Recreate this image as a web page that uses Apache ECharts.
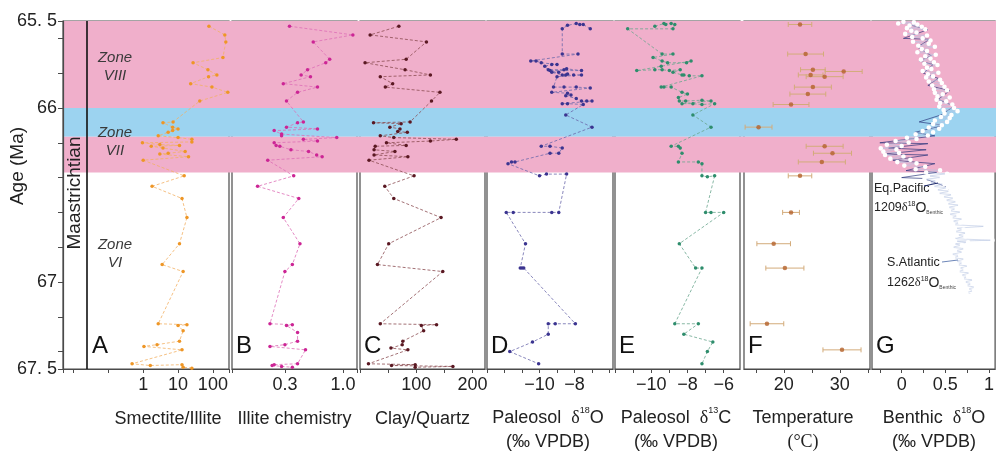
<!DOCTYPE html>
<html>
<head>
<meta charset="utf-8">
<script src="https://cdn.jsdelivr.net/npm/echarts@6/dist/echarts.min.js"></script>
<style>
  html, body { margin: 0; padding: 0; background: #fff; }
  #chart { width: 997px; height: 452px; }
</style>
</head>
<body>
<div id="chart"></div>
<script>
// 年龄轴 (Ma)
const ageTicks = [65.5, 65.6, 65.8, 66.0, 66.2, 66.4, 66.6, 66.8, 67.0, 67.2, 67.4, 67.5]
const ageLabels = [65.5, 66, 67, 67.5]

// 分带 (Zone VIII 粉, Zone VII 上部蓝, 下部粉)
const bandEdges = [[65.5, 66.0], [66.0, 66.165], [66.165, 66.37]]
const bandColors = ['#f0afcb', '#9cd3f0', '#f0afcb']

// 每个面板: [数值, 年龄]
const smectiteIllite = [
  [77, 65.53], [220, 65.58], [235, 65.62], [194, 65.71], [27, 65.74], [72, 65.78], [130, 65.81],
  [75, 65.82], [23, 65.86], [94, 65.88], [268, 65.91], [42, 65.96], [7.2, 66.08], [3.7, 66.085],
  [7, 66.11], [10, 66.12], [7, 66.13], [5.2, 66.14], [2.7, 66.16], [10, 66.17], [25, 66.18],
  [25, 66.195], [0.95, 66.2], [3, 66.21], [11, 66.215], [1.7, 66.22], [3.7, 66.23], [16, 66.25],
  [5.2, 66.26], [3, 66.265], [20, 66.28], [1, 66.3], [15, 66.39], [1.8, 66.45], [13, 66.52],
  [18, 66.63], [11, 66.78], [3.5, 66.9], [14, 66.94], [2.7, 67.24], [18, 67.245], [10, 67.25],
  [14, 67.28], [11, 67.34], [2.5, 67.36], [1.05, 67.37], [13, 67.39], [0.48, 67.47], [1.6, 67.48],
  [13, 67.475], [14, 67.49], [25, 67.495]
]

const illiteChem = [
  [0.33, 65.53], [1.23, 65.58], [0.54, 65.62], [0.76, 65.72], [0.70, 65.74], [0.48, 65.78],
  [0.42, 65.81], [0.51, 65.82], [0.29, 65.86], [0.59, 65.88], [0.39, 65.91], [0.31, 65.96],
  [0.44, 66.08], [0.39, 66.085], [0.31, 66.11], [0.59, 66.12], [0.24, 66.13], [0.28, 66.15],
  [0.28, 66.16], [0.88, 66.17], [0.44, 66.18], [0.59, 66.19], [0.24, 66.2], [0.25, 66.215],
  [0.27, 66.22], [0.34, 66.24], [0.49, 66.25], [0.58, 66.27], [0.65, 66.28], [0.21, 66.3],
  [0.36, 66.39], [0.17, 66.45], [0.40, 66.52], [0.29, 66.63], [0.41, 66.78], [0.35, 66.9],
  [0.30, 66.94], [0.22, 67.24], [0.35, 67.245], [0.31, 67.25], [0.39, 67.29], [0.39, 67.34],
  [0.30, 67.36], [0.22, 67.37], [0.46, 67.39], [0.39, 67.47], [0.24, 67.475], [0.23, 67.48],
  [0.28, 67.485], [0.35, 67.49]
]

const clayQuartz = [
  [69, 65.53], [18, 65.58], [118, 65.62], [82, 65.72], [9, 65.74], [80, 65.78], [125, 65.81],
  [36, 65.82], [58, 65.86], [45, 65.88], [142, 65.91], [127, 65.96], [89, 66.08], [24, 66.085],
  [73, 66.09], [53, 66.11], [71, 66.12], [67, 66.135], [84, 66.14], [36, 66.16], [60, 66.17],
  [171, 66.18], [125, 66.19], [47, 66.2], [82, 66.215], [27, 66.22], [25, 66.24], [62, 66.25],
  [25, 66.27], [85, 66.28], [16, 66.3], [96, 66.39], [44, 66.45], [60, 66.52], [144, 66.63],
  [51, 66.78], [31, 66.9], [147, 66.94], [36, 67.24], [136, 67.245], [109, 67.25], [113, 67.28],
  [76, 67.34], [75, 67.36], [55, 67.38], [85, 67.39], [15, 67.47], [98, 67.475], [56, 67.48],
  [165, 67.485], [98, 67.49]
]

const paleosolO = [
  [-7.1, 65.545], [-7.5, 65.52], [-7.7, 65.52], [-7.9, 65.515], [-8.4, 65.525], [-8.7, 65.545],
  [-8.7, 65.69], [-7.8, 65.69], [-10.5, 65.73], [-10.2, 65.73], [-9.9, 65.74], [-9.0, 65.75],
  [-9.3, 65.75], [-9.7, 65.76], [-9.5, 65.78], [-8.6, 65.78], [-8.45, 65.775], [-7.6, 65.785],
  [-9.4, 65.785], [-8.9, 65.795], [-9.3, 65.795], [-8.7, 65.81], [-8.5, 65.81], [-8.4, 65.805],
  [-8.05, 65.81], [-7.6, 65.81], [-9.0, 65.82], [-9.2, 65.88], [-8.6, 65.88], [-7.9, 65.88],
  [-7.1, 65.885], [-9.3, 65.91], [-8.4, 65.915], [-8.2, 65.925], [-8.5, 65.93], [-7.9, 65.945],
  [-7.6, 65.96], [-7.3, 65.96], [-7.0, 65.96], [-8.7, 65.975], [-8.4, 65.975], [-7.5, 65.98],
  [-8.5, 66.04], [-7.0, 66.11], [-9.9, 66.22], [-9.4, 66.22], [-8.7, 66.23], [-8.9, 66.26],
  [-9.4, 66.26], [-11.4, 66.31], [-11.6, 66.31], [-11.8, 66.32], [-10.0, 66.39], [-9.6, 66.38],
  [-8.45, 66.38], [-8.9, 66.6], [-9.3, 66.6], [-11.5, 66.6], [-11.9, 66.6], [-10.8, 66.78],
  [-11.1, 66.92], [-11.0, 66.92], [-10.9, 66.92], [-7.95, 67.24], [-9.1, 67.24], [-9.5, 67.24],
  [-9.5, 67.3], [-10.4, 67.345], [-11.7, 67.4], [-10.05, 67.47]
]

const paleosolC = [
  [-9.8, 65.53], [-9.3, 65.515], [-9.2, 65.52], [-8.9, 65.515], [-8.7, 65.52], [-8.8, 65.545],
  [-11.3, 65.545], [-9.4, 65.69], [-8.8, 65.69], [-9.9, 65.71], [-9.4, 65.73], [-9.1, 65.74],
  [-8.05, 65.74], [-7.8, 65.73], [-9.45, 65.76], [-10.8, 65.785], [-9.8, 65.78], [-9.4, 65.78],
  [-9.0, 65.785], [-8.4, 65.78], [-8.8, 65.795], [-8.3, 65.81], [-8.2, 65.81], [-7.9, 65.815],
  [-7.2, 65.815], [-9.45, 65.88], [-9.3, 65.88], [-8.9, 65.88], [-8.3, 65.91], [-8.0, 65.92],
  [-8.5, 65.94], [-8.45, 65.96], [-8.1, 65.96], [-7.2, 65.955], [-6.7, 65.96], [-8.3, 65.975],
  [-7.7, 65.975], [-7.2, 65.98], [-6.5, 65.975], [-7.7, 66.04], [-6.7, 66.11], [-8.9, 66.22],
  [-8.5, 66.22], [-8.4, 66.23], [-8.3, 66.26], [-8.5, 66.31], [-7.4, 66.31], [-7.2, 66.32],
  [-7.2, 66.39], [-6.9, 66.395], [-6.5, 66.39], [-7.0, 66.6], [-6.7, 66.6], [-6.0, 66.6],
  [-8.45, 66.78], [-7.55, 66.92], [-7.2, 66.92], [-8.7, 67.24], [-7.4, 67.24], [-8.2, 67.3],
  [-6.6, 67.345], [-6.9, 67.4], [-7.2, 67.47]
]

// 温度: [数值, 年龄, 误差]
const temperature = [
  [22.9, 65.52, 2.1], [23.9, 65.69, 3.2], [25.2, 65.78, 2.2], [30.7, 65.79, 3.3], [24.8, 65.81, 2.2],
  [27.3, 65.82, 3.3], [25.2, 65.88, 3.3], [24.3, 65.92, 3.2], [21.3, 65.98, 3.2], [15.5, 66.11, 2.4],
  [27.3, 66.22, 3.3], [28.7, 66.26, 3.4], [26.8, 66.31, 4.2], [22.9, 66.39, 2.1], [21.3, 66.6, 1.5],
  [18.2, 66.78, 3.0], [20.2, 66.92, 3.4], [17.0, 67.24, 3.0], [30.4, 67.39, 3.4]
]

// 底栖有孔虫 δ18O
const atlantic1262 = [
  [0.02, 65.505], [0.14, 65.508], [-0.04, 65.514], [0.18, 65.52], [0.09, 65.526], [0.23, 65.533],
  [0.06, 65.541], [0.27, 65.548], [0.11, 65.556], [0.17, 65.566], [0.04, 65.574], [0.29, 65.583],
  [0.12, 65.592], [0.24, 65.6], [0.33, 65.612], [0.13, 65.619], [0.31, 65.631], [0.19, 65.642],
  [0.38, 65.648], [0.23, 65.661], [0.29, 65.673], [0.18, 65.68], [0.39, 65.694], [0.27, 65.703],
  [0.33, 65.716], [0.22, 65.722], [0.37, 65.737], [0.26, 65.746], [0.41, 65.753], [0.29, 65.768],
  [0.34, 65.776], [0.24, 65.787], [0.42, 65.797], [0.30, 65.806], [0.36, 65.818], [0.28, 65.824],
  [0.44, 65.838], [0.31, 65.848], [0.46, 65.856], [0.35, 65.871], [0.49, 65.878], [0.37, 65.892],
  [0.52, 65.898], [0.38, 65.913], [0.47, 65.921], [0.41, 65.933], [0.55, 65.94], [0.40, 65.952],
  [0.51, 65.962], [0.44, 65.971], [0.58, 65.98], [0.43, 65.992], [0.60, 66.0], [0.48, 66.012],
  [0.64, 66.018], [0.49, 66.031], [0.57, 66.04], [0.45, 66.052], [0.55, 66.058], [0.38, 66.072],
  [0.52, 66.08], [0.36, 66.092], [0.46, 66.099], [0.31, 66.112], [0.43, 66.119], [0.24, 66.132],
  [0.36, 66.139], [0.16, 66.151], [0.30, 66.158], [0.06, 66.171], [0.17, 66.178], [-0.07, 66.19],
  [0.08, 66.198], [-0.17, 66.211], [0.0, 66.218], [-0.24, 66.232], [-0.06, 66.238], [-0.21, 66.251],
  [-0.03, 66.258], [-0.19, 66.27], [0.02, 66.279], [-0.13, 66.291], [0.10, 66.298], [-0.05, 66.311],
  [0.17, 66.318], [0.03, 66.331], [0.27, 66.338], [0.16, 66.352], [0.44, 66.358], [0.28, 66.371],
  [0.52, 66.378], [0.30, 66.391], [0.46, 66.399], [0.26, 66.41], [0.41, 66.419], [0.31, 66.432],
  [0.49, 66.438], [0.35, 66.451], [0.53, 66.458], [0.39, 66.471], [0.56, 66.478], [0.41, 66.491],
  [0.59, 66.498], [0.46, 66.511], [0.61, 66.518], [0.49, 66.531], [0.64, 66.538], [0.51, 66.551],
  [0.67, 66.558], [0.52, 66.571], [0.63, 66.578], [0.54, 66.591], [0.69, 66.598], [0.53, 66.611],
  [0.65, 66.618], [0.56, 66.631], [0.71, 66.638], [0.57, 66.651], [0.67, 66.658], [0.59, 66.671],
  [0.96, 66.68], [0.61, 66.691], [0.71, 66.698], [0.60, 66.711], [0.75, 66.718], [0.63, 66.731],
  [0.73, 66.738], [0.59, 66.751], [1.04, 66.76], [0.61, 66.765], [0.76, 66.772], [0.59, 66.781],
  [0.69, 66.788], [0.57, 66.801], [0.73, 66.808], [0.61, 66.821], [0.71, 66.828], [0.56, 66.841],
  [0.67, 66.848], [0.59, 66.861], [0.73, 66.868], [0.61, 66.881], [0.71, 66.888], [0.63, 66.901],
  [0.77, 66.908], [0.65, 66.921], [0.73, 66.928], [0.64, 66.941], [0.79, 66.948], [0.67, 66.961],
  [0.76, 66.968], [0.69, 66.981], [0.83, 66.988], [0.71, 67.0], [0.81, 67.01], [0.73, 67.02],
  [0.85, 67.03], [0.75, 67.04], [0.83, 67.05], [0.74, 67.06], [0.81, 67.07], [0.77, 67.08]
]

const pacific1209 = [
  [0.08, 65.52], [0.30, 65.55], [0.02, 65.6], [0.32, 65.605], [0.18, 65.65], [0.34, 65.7],
  [0.20, 65.73], [0.36, 65.75], [0.25, 65.8], [0.42, 65.83], [0.30, 65.87], [0.55, 65.9],
  [0.42, 65.95], [0.60, 65.99], [0.45, 66.04], [0.20, 66.08], [0.48, 66.1], [0.15, 66.14],
  [0.38, 66.16], [-0.25, 66.2], [0.30, 66.205], [-0.15, 66.23], [0.28, 66.24], [-0.20, 66.265],
  [0.30, 66.27], [-0.10, 66.3], [0.38, 66.32], [0.05, 66.36], [0.40, 66.37], [0.0, 66.4],
  [0.25, 66.405], [0.50, 66.45], [0.60, 66.5]
]

const FONT = 'Liberation Sans, Arial, sans-serif'
const SERIF = 'Liberation Serif, Times New Roman, serif'

// 面板位置
const panels = [
  { left: 63, width: 166 },
  { left: 232, width: 125 },
  { left: 360, width: 125 },
  { left: 487, width: 126 },
  { left: 615, width: 125 },
  { left: 744, width: 126 },
  { left: 872, width: 124 }
]
const TOP = 21
const HEIGHT = 348

const chart = echarts.init(document.getElementById('chart'), null, { renderer: 'canvas' })

const grids = panels.map((p) => ({
  left: p.left, width: p.width, top: TOP, height: HEIGHT,
  show: true, z: 1, borderColor: '#4a4a4a', borderWidth: 1.2, backgroundColor: 'transparent'
}))
grids.push({ left: 63, width: 933, top: TOP, height: HEIGHT, show: false })

const labelStyle = { fontFamily: FONT, fontSize: 18, color: '#222', margin: 7 }
const nameStyle = { fontFamily: FONT, fontSize: 18, color: '#222', lineHeight: 24 }
const axisBase = (i) => ({
  gridIndex: i, z: 1,
  nameLocation: 'middle', nameGap: 38, nameTextStyle: nameStyle,
  axisLine: { show: true, lineStyle: { color: '#4a4a4a', width: 1.2 } },
  axisTick: { show: true, length: 4, lineStyle: { color: '#4a4a4a' } },
  splitLine: { show: false }
})
const tickStyle = (values) => ({ show: true, length: 4, lineStyle: { color: '#4a4a4a' }, customValues: values })
const minus = (v) => (v < 0 ? '\u2212' + Math.abs(v) : String(v))

const xAxes = [
  Object.assign(axisBase(0), {
    type: 'log', logBase: 10, min: 0.005, max: 290, name: 'Smectite/Illite',
    nameTextStyle: Object.assign({}, nameStyle, { padding: [0, 0, 0, 44] }),
    axisLabel: Object.assign({}, labelStyle, {
      formatter: (v) => ([1, 10, 100].some((k) => Math.abs(v - k) < 1e-6) ? String(Math.round(v)) : '')
    })
  }),
  Object.assign(axisBase(1), {
    type: 'log', logBase: 1 / 0.3, min: 0.1, max: 1.34, name: 'Illite chemistry',
    axisLabel: Object.assign({}, labelStyle, {
      formatter: (v) => ([0.3, 1].some((k) => Math.abs(v - k) < 1e-3) ? v.toFixed(1) : '')
    })
  }),
  Object.assign(axisBase(2), {
    type: 'value', min: 0, max: 222, name: 'Clay/Quartz',
    axisTick: tickStyle([0, 50, 100, 150, 200]),
    axisLabel: Object.assign({}, labelStyle, { customValues: [100, 200] })
  }),
  Object.assign(axisBase(3), {
    type: 'value', min: -13, max: -5.8,
    axisTick: tickStyle([-13, -12, -11, -10, -9, -8, -7, -6]),
    axisLabel: Object.assign({}, labelStyle, { customValues: [-10, -8], formatter: minus })
  }),
  Object.assign(axisBase(4), {
    type: 'value', min: -12, max: -5.1,
    axisTick: tickStyle([-12, -11, -10, -9, -8, -7, -6]),
    axisLabel: Object.assign({}, labelStyle, { customValues: [-10, -8, -6], formatter: minus })
  }),
  Object.assign(axisBase(5), {
    type: 'value', min: 12.9, max: 35.4,
    axisTick: tickStyle([15, 20, 25, 30, 35]),
    axisLabel: Object.assign({}, labelStyle, { customValues: [20, 30] })
  }),
  Object.assign(axisBase(6), {
    type: 'value', min: -0.34, max: 1.07,
    axisTick: tickStyle([-0.25, 0, 0.25, 0.5, 0.75, 1]),
    axisLabel: Object.assign({}, labelStyle, { customValues: [0, 0.5, 1] })
  }),
  { gridIndex: 7, type: 'value', min: 0, max: 1, show: false }
]

const yAxes = panels.map((p, i) => ({
  gridIndex: i, type: 'value', inverse: true, min: 65.5, max: 67.5, z: 1,
  show: i === 0,
  axisLine: { show: true, lineStyle: { color: '#4a4a4a', width: 1.2 } },
  axisTick: { show: true, length: 5, lineStyle: { color: '#4a4a4a' }, customValues: ageTicks },
  axisLabel: Object.assign({}, labelStyle, {
    margin: 6,
    customValues: ageLabels,
    formatter: (v) => (v === 65.5 ? '65. 5' : v === 67.5 ? '67. 5' : String(v))
  }),
  splitLine: { show: false }
}))
yAxes.push({ gridIndex: 7, type: 'value', inverse: true, min: 65.5, max: 67.5, show: false })

const lineSeries = (i, data, dot, line) => ({
  type: 'line', xAxisIndex: i, yAxisIndex: i, data: data,
  symbol: 'circle', symbolSize: 3.5, z: 3,
  itemStyle: { color: dot },
  lineStyle: { color: line, width: 0.8, type: [3, 2] },
  animation: false
})

// 两行的坐标轴标题
const titleRich = {
  t: { fontFamily: FONT, fontSize: 18, fill: '#222', lineHeight: 24 },
  d: { fontFamily: SERIF, fontSize: 18, fill: '#222', lineHeight: 24 },
  s: { fontFamily: FONT, fontSize: 9, fill: '#222', lineHeight: 24, verticalAlign: 'top' }
}
const twoLineTitles = [
  { x: 548, text: '{t|Paleosol  }{d|δ}{s|18}{t|O}\n{t|(‰ VPDB)}' },
  { x: 676, text: '{t|Paleosol  }{d|δ}{s|13}{t|C}\n{t|(‰ VPDB)}' },
  { x: 803, text: '{t|Temperature}\n{d|(°C)}' },
  { x: 934, text: '{t|Benthic  }{d|δ}{s|18}{t|O}\n{t|(‰ VPDB)}' }
]

const benthicRich = {
  a: { fontFamily: FONT, fontSize: 12.5, fill: '#222' },
  d: { fontFamily: SERIF, fontSize: 12.5, fill: '#222' },
  s: { fontFamily: FONT, fontSize: 7, fill: '#222', verticalAlign: 'top' },
  o: { fontFamily: FONT, fontSize: 14, fill: '#222' },
  b: { fontFamily: FONT, fontSize: 5, fill: '#444', verticalAlign: 'bottom' }
}

const option = {
  animation: false,
  grid: grids,
  xAxis: xAxes,
  yAxis: yAxes,
  series: [
    {
      type: 'line', xAxisIndex: 7, yAxisIndex: 7, data: [], silent: true, z: 0,
      markArea: {
        silent: true,
        data: bandEdges.map((b, i) => [
          { yAxis: b[0], itemStyle: { color: bandColors[i], opacity: 1 } },
          { yAxis: b[1] }
        ])
      }
    },
    lineSeries(0, smectiteIllite, '#ee9626', '#f2b164'),
    lineSeries(1, illiteChem, '#cc2595', '#dd6fb6'),
    lineSeries(2, clayQuartz, '#5a1822', '#8c4c52'),
    lineSeries(3, paleosolO, '#3b3490', '#6b68ab'),
    lineSeries(4, paleosolC, '#2e8d6c', '#6aa68e'),
    {
      type: 'custom', xAxisIndex: 5, yAxisIndex: 5, data: temperature, z: 3,
      encode: { x: 0, y: 1 },
      renderItem: (params, api) => {
        const v = api.value(0)
        const a = api.value(1)
        const e = api.value(2)
        const p1 = api.coord([v - e, a])
        const p2 = api.coord([v + e, a])
        const st = { stroke: '#d3ab7a', lineWidth: 1 }
        return {
          type: 'group',
          children: [
            { type: 'line', shape: { x1: p1[0], y1: p1[1], x2: p2[0], y2: p2[1] }, style: st },
            { type: 'line', shape: { x1: p1[0], y1: p1[1] - 2.5, x2: p1[0], y2: p1[1] + 2.5 }, style: st },
            { type: 'line', shape: { x1: p2[0], y1: p2[1] - 2.5, x2: p2[0], y2: p2[1] + 2.5 }, style: st }
          ]
        }
      }
    },
    {
      type: 'scatter', xAxisIndex: 5, yAxisIndex: 5, z: 4, symbolSize: 4.5,
      data: temperature.map((d) => [d[0], d[1]]),
      itemStyle: { color: '#b4622a' }
    },
    {
      type: 'line', xAxisIndex: 6, yAxisIndex: 6, data: pacific1209, z: 3,
      showSymbol: false, symbol: 'none',
      lineStyle: { color: '#26337a', width: 0.8, opacity: 0.85 }
    },
    {
      type: 'line', xAxisIndex: 6, yAxisIndex: 6, data: atlantic1262, z: 4,
      symbol: 'emptyCircle', symbolSize: 2.6,
      itemStyle: { color: '#fff', borderColor: '#9aaed4', borderWidth: 0.6 },
      lineStyle: { color: '#b9c6e2', width: 0.6 }
    }
  ],
  graphic: [
    { type: 'line', z: 10, shape: { x1: 87, y1: TOP, x2: 87, y2: TOP + HEIGHT }, style: { stroke: '#111', lineWidth: 1.6 } },
    { type: 'text', z: 10, x: 18, y: 166, rotation: Math.PI / 2,
      style: { text: 'Age (Ma)', fontFamily: FONT, fontSize: 19, fill: '#222', align: 'center', verticalAlign: 'middle' } },
    { type: 'text', z: 10, x: 75, y: 193, rotation: Math.PI / 2,
      style: { text: 'Maastrichtian', fontFamily: FONT, fontSize: 19, fill: '#222', align: 'center', verticalAlign: 'middle' } },
    { type: 'text', z: 10, x: 115, y: 67,
      style: { text: 'Zone\nVIII', fontFamily: FONT, fontStyle: 'italic', fontSize: 15, lineHeight: 18, fill: '#3a3a3a', align: 'center', verticalAlign: 'middle' } },
    { type: 'text', z: 10, x: 115, y: 142,
      style: { text: 'Zone\nVII', fontFamily: FONT, fontStyle: 'italic', fontSize: 15, lineHeight: 18, fill: '#3a3a3a', align: 'center', verticalAlign: 'middle' } },
    { type: 'text', z: 10, x: 115, y: 254,
      style: { text: 'Zone\nVI', fontFamily: FONT, fontStyle: 'italic', fontSize: 15, lineHeight: 18, fill: '#3a3a3a', align: 'center', verticalAlign: 'middle' } }
  ].concat(['A', 'B', 'C', 'D', 'E', 'F', 'G'].map((t, i) => ({
    type: 'text', z: 10, x: (i === 0 ? 92 : panels[i].left + 4), y: 346,
    style: { text: t, fontFamily: FONT, fontSize: 24, fill: '#111', align: 'left', verticalAlign: 'middle' }
  }))).concat(twoLineTitles.map((tt) => ({
    type: 'text', z: 10, x: tt.x, y: 430,
    style: { text: tt.text, rich: titleRich, align: 'center', verticalAlign: 'middle' }
  }))).concat([
    { type: 'text', z: 10, x: 874, y: 189,
      style: { text: 'Eq.Pacific', fontFamily: FONT, fontSize: 12.5, fill: '#222', align: 'left', verticalAlign: 'middle' } },
    { type: 'text', z: 10, x: 874, y: 208,
      style: { text: '{a|1209}{d|δ}{s|18}{o|O}{b|Benthic}', align: 'left', verticalAlign: 'middle', rich: benthicRich } },
    { type: 'line', z: 10, shape: { x1: 924, y1: 186, x2: 938, y2: 183 }, style: { stroke: '#1d2a6c', lineWidth: 1 } },
    { type: 'text', z: 10, x: 887, y: 263,
      style: { text: 'S.Atlantic', fontFamily: FONT, fontSize: 12.5, fill: '#222', align: 'left', verticalAlign: 'middle' } },
    { type: 'text', z: 10, x: 887, y: 283,
      style: { text: '{a|1262}{d|δ}{s|18}{o|O}{b|Benthic}', align: 'left', verticalAlign: 'middle', rich: benthicRich } },
    { type: 'line', z: 10, shape: { x1: 942, y1: 262, x2: 958, y2: 260 }, style: { stroke: '#6d86b8', lineWidth: 1 } }
  ])
}

chart.setOption(option)
</script>
</body>
</html>
